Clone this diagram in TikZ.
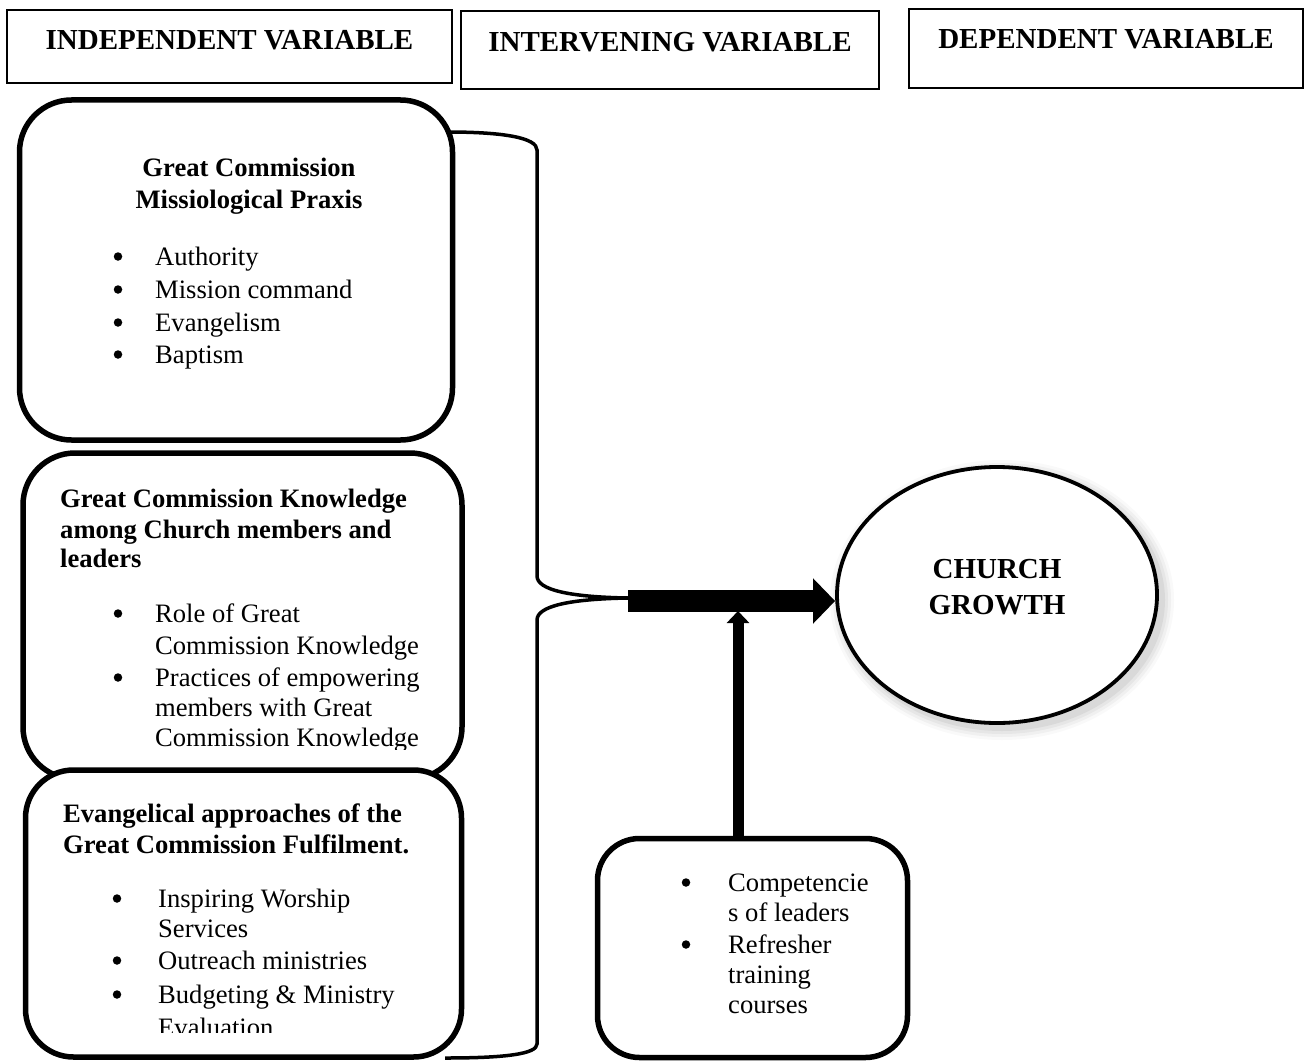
\documentclass[tikz,border=0pt]{standalone}
\usepackage{fontspec}
\setmainfont{Liberation Serif}
\usetikzlibrary{arrows.meta,shapes.geometric}
\begin{document}
\begin{tikzpicture}[x=1pt,y=-1pt,
  hbox/.style={draw, line width=2.8pt, inner sep=0pt},
  htxt/.style={font=\bfseries\fontsize{29}{33}\selectfont, anchor=base, inner sep=0pt},
  rbox/.style={draw, line width=5.5pt, rounded corners=52pt, fill=white, inner sep=0pt},
  btxt/.style={font=\bfseries\fontsize{26.6}{31}\selectfont, inner sep=0pt},
  ntxt/.style={font=\fontsize{26.6}{31}\selectfont, inner sep=0pt, anchor=base west},
  bul/.style={circle, fill=black, inner sep=0pt, minimum size=8.5pt, yshift=8.5pt},
  brace/.style={line width=3.5pt},
]
\useasboundingbox (0,0) rectangle (1308,1062);

% header boxes
\node[hbox, minimum width=445pt, minimum height=73pt] (h1) at (229.5,46.5) {};
\node[htxt] (h1t) at (229.5,50) {INDEPENDENT VARIABLE};
\node[hbox, minimum width=418pt, minimum height=78pt] (h2) at (670,50) {};
\node[htxt] (h2t) at (670,52) {INTERVENING VARIABLE};
\node[hbox, minimum width=394pt, minimum height=79pt] (h3) at (1106,48.5) {};
\node[htxt] (h3t) at (1106,49) {DEPENDENT VARIABLE};

% bracket
\coordinate (tip) at (628,598);
\draw[brace] (447,132) .. controls (505,132) and (537,138) .. (537,150) -- (537,576)
  .. controls (537,590) and (570,597) .. (tip);
\draw[brace] (tip) .. controls (570,599) and (537,606) .. (537,620) -- (537,1044)
  .. controls (537,1054) and (505,1058) .. (445,1058);

% box A
\node[rbox, minimum width=433pt, minimum height=340pt] (A) at (236,270) {};
\node[btxt, anchor=base] (A1) at (249,176) {Great Commission};
\node[btxt, anchor=base] (A2) at (249,208) {Missiological Praxis};
\node[bul] (Ab1) at (118,265) {};
\node[ntxt] (Ai1) at (155,265) {Authority};
\node[bul] (Ab2) at (118,298) {};
\node[ntxt] (Ai2) at (155,298) {Mission command};
\node[bul] (Ab3) at (118,331) {};
\node[ntxt] (Ai3) at (155,331) {Evangelism};
\node[bul] (Ab4) at (118,363) {};
\node[ntxt] (Ai4) at (155,363) {Baptism};

% box B
\node[rbox, minimum width=439pt, minimum height=326pt] (B) at (242.5,616) {};
\node[btxt, anchor=base west] (B1) at (60,507) {Great Commission Knowledge};
\node[btxt, anchor=base west] (B2) at (60,538) {among Church members and};
\node[btxt, anchor=base west] (B3) at (60,567) {leaders};
\begin{scope}
\clip (0,440) rectangle (480,749);
\node[bul] (Bb1) at (118,622) {};
\node[ntxt] (Bi1) at (155,622) {Role of Great};
\node[ntxt] (Bi2) at (155,654) {Commission Knowledge};
\node[bul] (Bb2) at (118,686) {};
\node[ntxt] (Bi3) at (155,686) {Practices of empowering};
\node[ntxt] (Bi4) at (155,716) {members with Great};
\node[ntxt] (Bi5) at (155,746) {Commission Knowledge};
\end{scope}

% box C
\node[rbox, rounded corners=48pt, minimum width=436pt, minimum height=287pt] (C) at (243.5,913.5) {};
\node[btxt, anchor=base west] (C1) at (63,822) {Evangelical approaches of the};
\node[btxt, anchor=base west] (C2) at (63,853) {Great Commission Fulfilment.};
\begin{scope}
\clip (0,770) rectangle (480,1032);
\node[bul] (Cb1) at (117,907) {};
\node[ntxt] (Ci1) at (158,907) {Inspiring Worship};
\node[ntxt] (Ci2) at (158,937) {Services};
\node[bul] (Cb2) at (117,969) {};
\node[ntxt] (Ci3) at (158,969) {Outreach ministries};
\node[bul] (Cb3) at (117,1003) {};
\node[ntxt] (Ci4) at (158,1003) {Budgeting \& Ministry};
\node[ntxt] (Ci5) at (158,1036) {Evaluation};
\end{scope}

% box D
\node[rbox, rounded corners=42pt, minimum width=310pt, minimum height=219pt] (D) at (752.5,948) {};
\node[bul] (Db1) at (686,891) {};
\node[ntxt] (Di1) at (728,891) {Competencie};
\node[ntxt] (Di2) at (728,921) {s of leaders};
\node[bul] (Db2) at (686,953) {};
\node[ntxt] (Di3) at (728,953) {Refresher};
\node[ntxt] (Di4) at (728,983) {training};
\node[ntxt] (Di5) at (728,1013) {courses};

% circle with soft shadow
\foreach \r/\o in {12/0.025,9/0.035,6/0.045,3/0.055}{
  \fill[black, opacity=\o] (1002,600) ellipse [x radius=160+\r, y radius=128+\r];
}
\node[ellipse, draw, line width=3.8pt, fill=white, minimum width=320pt, minimum height=256pt, inner sep=0pt] (cg) at (997,595) {};
\node[btxt, font=\bfseries\fontsize{29}{36}\selectfont, align=center] (cgt) at (997,587) {CHURCH\\GROWTH};

% arrows
\draw[line width=22pt, -{Triangle[length=22pt,width=44pt]}] (tip) ++(0,3) coordinate (ta) -- (ta -| cg.west);
\coordinate (va) at (738,838);
\draw[line width=11pt, -{Triangle[length=12pt,width=22pt]}] (va) -- (738,611);
\end{tikzpicture}
\end{document}
